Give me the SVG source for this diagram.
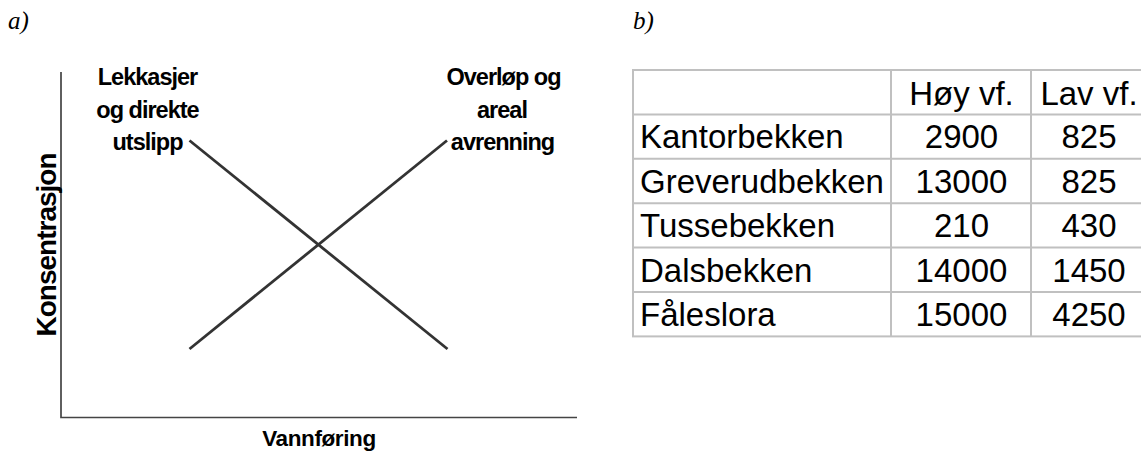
<svg xmlns="http://www.w3.org/2000/svg" width="1141" height="453" viewBox="0 0 1141 453">
<style>
.cap{font-family:"Liberation Serif","Times New Roman",serif;font-style:italic;font-size:25px;fill:#000}
.lbl{font-family:"Liberation Sans",Arial,sans-serif;font-weight:bold;font-size:23.5px;fill:#000;text-anchor:middle;letter-spacing:-1px}
.ax{font-family:"Liberation Sans",Arial,sans-serif;font-weight:bold;fill:#000;text-anchor:middle}
.axis{stroke:#444;stroke-width:1.7;fill:none}
.trend{stroke:#333;stroke-width:2.8;fill:none}
.grid{stroke:#c0c0c0;stroke-width:2;fill:none}
.tc{font-family:"Liberation Sans",Arial,sans-serif;font-size:33px;fill:#000}
.num{text-anchor:middle}
</style>
<rect width="1141" height="453" fill="#fff"/>
<g id="caption-a"><text class="cap" x="8" y="29">a)</text></g>
<g id="caption-b"><text class="cap" x="633" y="29">b)</text></g>
<g id="axes">
<polyline class="axis" points="61,72 61,417.5 577,417.5"/>
<text class="ax" x="319" y="446" font-size="22.5" letter-spacing="-0.4">Vannføring</text>
<text class="ax" font-size="28" letter-spacing="-1" transform="translate(55.5,245) rotate(-90)">Konsentrasjon</text>
</g>
<g id="connectors">
<line class="trend" x1="189.5" y1="140.5" x2="447.5" y2="349"/>
<line class="trend" x1="189.5" y1="349" x2="447" y2="140.5"/>
</g>
<g id="label-lekkasjer">
<text class="lbl" x="147.5" y="85">Lekkasjer</text>
<text class="lbl" x="147.5" y="117.5">og direkte</text>
<text class="lbl" x="147.5" y="149.5">utslipp</text>
</g>
<g id="label-overlop">
<text class="lbl" x="503.5" y="85">Overløp og</text>
<text class="lbl" x="502" y="118">areal</text>
<text class="lbl" x="502.5" y="150">avrenning</text>
</g>
<g id="table">
<rect class="grid" x="633" y="70" width="515" height="266.4"/>
<line class="grid" x1="891" y1="70" x2="891" y2="336.4"/>
<line class="grid" x1="1031" y1="70" x2="1031" y2="336.4"/>
<line class="grid" x1="633" y1="114.4" x2="1148" y2="114.4"/>
<line class="grid" x1="633" y1="158.8" x2="1148" y2="158.8"/>
<line class="grid" x1="633" y1="203.2" x2="1148" y2="203.2"/>
<line class="grid" x1="633" y1="247.6" x2="1148" y2="247.6"/>
<line class="grid" x1="633" y1="292" x2="1148" y2="292"/>
<text class="tc num" x="961.5" y="104.5">Høy vf.</text>
<text class="tc num" x="1089" y="104.5">Lav vf.</text>
<text class="tc" x="640" y="148.3">Kantorbekken</text>
<text class="tc num" x="961.5" y="148.3">2900</text>
<text class="tc num" x="1089" y="148.3">825</text>
<text class="tc" x="640" y="192.7">Greverudbekken</text>
<text class="tc num" x="961.5" y="192.7">13000</text>
<text class="tc num" x="1089" y="192.7">825</text>
<text class="tc" x="640" y="237.1">Tussebekken</text>
<text class="tc num" x="961.5" y="237.1">210</text>
<text class="tc num" x="1089" y="237.1">430</text>
<text class="tc" x="640" y="281.5">Dalsbekken</text>
<text class="tc num" x="961.5" y="281.5">14000</text>
<text class="tc num" x="1089" y="281.5">1450</text>
<text class="tc" x="640" y="325.9">Fåleslora</text>
<text class="tc num" x="961.5" y="325.9">15000</text>
<text class="tc num" x="1089" y="325.9">4250</text>
</g>
</svg>
